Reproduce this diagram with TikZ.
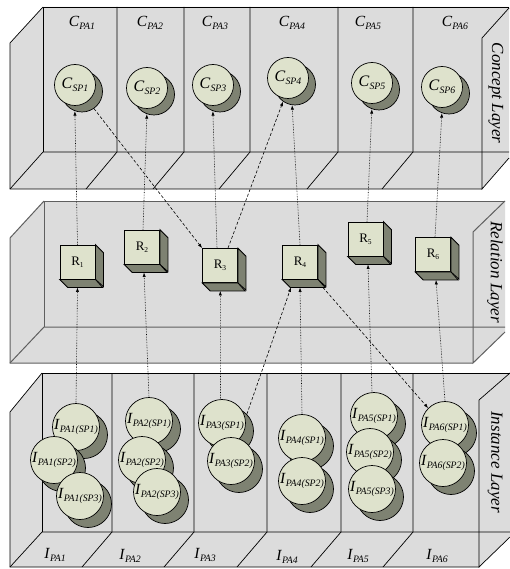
\documentclass[tikz,border=0pt]{standalone}
\usepackage{fontspec}
\setmainfont{Liberation Serif}
\usetikzlibrary{arrows.meta,calc}
\definecolor{wallfill}{RGB}{220,220,220}
\definecolor{ballfill}{RGB}{222,226,204}
\definecolor{shadefill}{RGB}{126,130,114}
\definecolor{relline}{RGB}{95,95,95}
\newcommand\sublbl[2]{\textit{#1}\raisebox{-3pt}{\fontsize{9.8}{10}\selectfont\textit{#2}}}
\newcommand\rlbl[1]{R\raisebox{-2pt}{\fontsize{7.5}{8}\selectfont #1}}
\newcommand\csph[3]{\node[cshad,xshift=7pt,yshift=-6.5pt] (#1s) at (#2) {};\node[cball] (#1) at (#2) {#3};}
\newcommand\isph[3]{\node[ishad,xshift=8pt,yshift=-8pt] (#1s) at (#2) {};\node[iball] (#1) at (#2) {#3};}
\newcommand\rcube[3]{\node[rfront] (#1) at (#2) {#3};
  \draw[cubeedge,fill=shadefill] (#1.north east) -- ++(8,8) -- ++(0,34) -- (#1.south east) -- cycle;
  \draw[cubeedge,fill=shadefill] (#1.south west) -- ++(8,8) -- ++(35,0) -- (#1.south east) -- cycle;}
\begin{document}
\begin{tikzpicture}[x=1pt,y=-1pt,
  wl/.style={line width=0.7pt,black},
  rl/.style={line width=1pt,relline},
  cball/.style={circle,draw,line width=0.7pt,fill=ballfill,inner sep=0pt,minimum size=41pt,font=\fontsize{16}{16}\selectfont},
  cshad/.style={circle,draw,line width=0.7pt,fill=shadefill,inner sep=0pt,minimum size=41pt},
  iball/.style={circle,draw,line width=0.7pt,fill=ballfill,inner sep=0pt,minimum size=47pt,font=\fontsize{15.5}{16}\selectfont},
  ishad/.style={circle,draw,line width=0.7pt,fill=shadefill,inner sep=0pt,minimum size=47pt},
  rfront/.style={rectangle,draw,line width=0.8pt,fill=ballfill,inner sep=0pt,minimum width=35pt,minimum height=34pt,font=\fontsize{13}{13}\selectfont},
  cubeedge/.style={line width=0.8pt,black},
  toplbl/.style={font=\fontsize{15.5}{16}\selectfont},
  layerlbl/.style={rotate=-90,font=\fontsize{17}{17}\selectfont\itshape},
  dotarrow/.style={densely dotted,line width=0.6pt,-{Latex[length=4.5pt,width=3.2pt,sep=0pt]}},
  dasharrow/.style={dash pattern=on 3pt off 2pt,line width=0.6pt,-{Latex[length=4.5pt,width=3.2pt]}}]
\useasboundingbox (0,0) rectangle (510,569);
\fill[white] (0,0) rectangle (510,569);
% ---------- Concept layer
\fill[wallfill] (10,43) -- (43,7) -- (509,7) -- (509,158) -- (482,189) -- (10,189) -- cycle;
\draw[wl] (43,152) -- (43,7) -- (509,7);
\draw[wl] (43,7) -- (10,43) -- (10,189) -- (482,189);
\draw[wl] (10,189) -- (43,152) -- (509,152);
\foreach \x in {117,184,250,338,413} \draw[wl] (\x,7) -- (\x,152) -- ++(-31,37);
\draw[wl] (509,8) -- (482,38) -- (482,189) -- (509,158);
\node[layerlbl] (Lc) at (496,93) {Concept Layer};
% ---------- Relation layer
\fill[wallfill] (10,238) -- (44,201) -- (505,201) -- (505,332) -- (473,363) -- (10,363) -- cycle;
\draw[rl] (44,327) -- (44,201) -- (505,201);
\draw[rl] (44,201) -- (10,238) -- (10,363) -- (473,363);
\draw[rl] (10,363) -- (44,327) -- (505,327);
\draw[rl] (505,201) -- (473,232) -- (473,363) -- (505,332);
\node[layerlbl] (Lr) at (495,272) {Relation Layer};
% ---------- Instance layer
\fill[wallfill] (10,412) -- (42,373) -- (510,373) -- (510,537) -- (479,567) -- (10,567) -- cycle;
\draw[wl] (42,532) -- (42,373) -- (510,373);
\draw[wl] (42,373) -- (10,412) -- (10,567) -- (479,567);
\draw[wl] (10,567) -- (42,532) -- (510,532);
\foreach \x in {112,194,267,341,413} \draw[wl] (\x,373) -- (\x,532) -- ++(-30,35);
\draw[wl] (510,373) -- (479,400) -- (479,567) -- (510,537);
\node[layerlbl] (Li) at (495,462) {Instance Layer};
% ---------- labels
\node[toplbl] (CPA1) at (82,23) {\sublbl{C}{PA1}};
\node[toplbl] (CPA2) at (150,23) {\sublbl{C}{PA2}};
\node[toplbl] (CPA3) at (215,23) {\sublbl{C}{PA3}};
\node[toplbl] (CPA4) at (292,23) {\sublbl{C}{PA4}};
\node[toplbl] (CPA5) at (368,23) {\sublbl{C}{PA5}};
\node[toplbl] (CPA6) at (455,23) {\sublbl{C}{PA6}};
\node[toplbl] (IPA1l) at (55,555) {\sublbl{I}{PA1}};
\node[toplbl] (IPA2l) at (130,556) {\sublbl{I}{PA2}};
\node[toplbl] (IPA3l) at (205,555) {\sublbl{I}{PA3}};
\node[toplbl] (IPA4l) at (287,557) {\sublbl{I}{PA4}};
\node[toplbl] (IPA5l) at (358,556) {\sublbl{I}{PA5}};
\node[toplbl] (IPA6l) at (437,556) {\sublbl{I}{PA6}};
% ---------- concept spheres
\csph{CSP1}{75,85}{\sublbl{C}{SP1}}
\csph{CSP2}{147,88}{\sublbl{C}{SP2}}
\csph{CSP3}{213,85}{\sublbl{C}{SP3}}
\csph{CSP4}{288,78}{\sublbl{C}{SP4}}
\csph{CSP5}{372,83}{\sublbl{C}{SP5}}
\csph{CSP6}{442,87}{\sublbl{C}{SP6}}
% ---------- relation cubes
\rcube{R1}{77.5,262}{\rlbl{1}}
\rcube{R2}{142,247}{\rlbl{2}}
\rcube{R3}{220,265.5}{\rlbl{3}}
\rcube{R4}{300,262}{\rlbl{4}}
\rcube{R5}{365.5,239}{\rlbl{5}}
\rcube{R6}{433,254.5}{\rlbl{6}}
% ---------- instance spheres
\isph{IPA1a}{76,427}{\sublbl{I}{PA1(SP1)}}
\isph{IPA1b}{54,460}{\sublbl{I}{PA1(SP2)}}
\isph{IPA1c}{80,496}{\sublbl{I}{PA1(SP3)}}
\isph{IPA2a}{149,421}{\sublbl{I}{PA2(SP1)}}
\isph{IPA2b}{142,460}{\sublbl{I}{PA2(SP2)}}
\isph{IPA2c}{157,492}{\sublbl{I}{PA2(SP3)}}
\isph{IPA3a}{222,423}{\sublbl{I}{PA3(SP1)}}
\isph{IPA3b}{231,461}{\sublbl{I}{PA3(SP2)}}
\isph{IPA4a}{302,438}{\sublbl{I}{PA4(SP1)}}
\isph{IPA4b}{302,481}{\sublbl{I}{PA4(SP2)}}
\isph{IPA5a}{374,416}{\sublbl{I}{PA5(SP1)}}
\isph{IPA5b}{370,452}{\sublbl{I}{PA5(SP2)}}
\isph{IPA5c}{372,489}{\sublbl{I}{PA5(SP3)}}
\isph{IPA6a}{445,425}{\sublbl{I}{PA6(SP1)}}
\isph{IPA6b}{443,463}{\sublbl{I}{PA6(SP2)}}
% ---------- connectors relation -> concept
\draw[dotarrow] (R1.north) -- (CSP1s.250);
\draw[dotarrow] ([xshift=1pt]R2.north) -- (CSP2s.250);
\draw[dotarrow] ([xshift=-3pt]R3.north) -- (CSP3s.250);
\draw[dasharrow] ([xshift=8pt]R3.north) -- (CSP4s.235);
\draw[dotarrow] (R4.north) -- (CSP4s.262);
\draw[dotarrow] ([xshift=1.5pt]R5.north) -- (CSP5s.250);
\draw[dotarrow] ([xshift=2pt]R6.north) -- (CSP6s.250);
\draw[dasharrow] (CSP1s.305) -- (R3.north west);
% ---------- connectors instance -> relation
\draw[dotarrow] (IPA1a.north) -- ([yshift=-8pt]R1.south);
\draw[dotarrow] (IPA2a.north) -- ([yshift=-8pt,xshift=2pt]R2.south);
\draw[dotarrow] ([xshift=-1.5pt]IPA3a.north) -- ([yshift=-8pt,xshift=0.3pt]R3.south);
\draw[dasharrow] (IPA3as.45) -- ([yshift=-8pt,xshift=-9pt]R4.south);
\draw[dotarrow] (IPA4a.north) -- ([yshift=-8pt]R4.south);
\draw[dotarrow] ([xshift=-2pt]IPA5a.north) -- ([yshift=-8pt,xshift=2.5pt]R5.south);
\draw[dotarrow] (IPA6a.north) -- ([yshift=-8pt,xshift=3pt]R6.south);
\draw[dasharrow] ([yshift=-8pt,xshift=5pt]R4.south east) -- (IPA6a.135);
\end{tikzpicture}
\end{document}
